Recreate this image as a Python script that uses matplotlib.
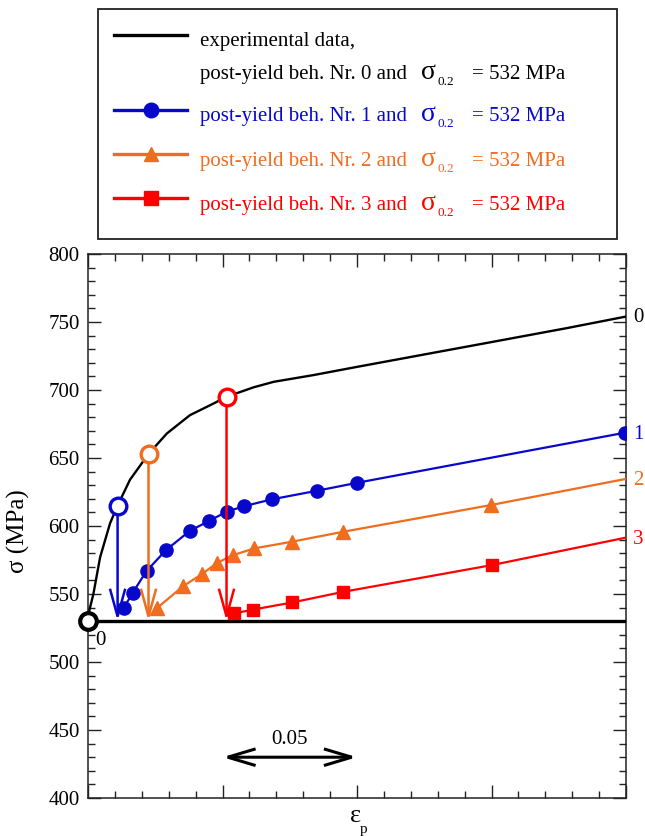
import matplotlib
matplotlib.use("Agg")
import matplotlib.pyplot as plt
from matplotlib.ticker import MultipleLocator, NullFormatter
from matplotlib.patches import Rectangle

plt.rcParams['font.family'] = ['Liberation Serif', 'DejaVu Serif']

BLUE = '#0808cc'
ORANGE = '#f06c1e'
RED = '#ff0000'

# experimental curve (post-yield behaviour Nr. 0)
exp_eps = [0.0, 0.0005, 0.002, 0.0045, 0.0082, 0.011, 0.0156, 0.0225, 0.0293, 0.0379,
           0.0466, 0.0515, 0.0616, 0.069, 0.0839, 0.1, 0.1507, 0.178, 0.2]
exp_sig = [530, 538, 550, 577, 602, 615, 634, 653, 668, 681.5,
           690, 695, 702, 706, 711, 717, 735.5, 745.5, 754]

sigma_line = 530          # drawn yield level
sigma02_text = 532        # value quoted in legend

# unloading points on the experimental curve
yield_eps = [0.011, 0.0225, 0.0515]
yield_sig = [615, 653, 695]

# post-yield behaviour Nr. 1
b1_eps = [0.0132, 0.0166, 0.0218, 0.029, 0.0379, 0.0451, 0.0515, 0.0581, 0.0683, 0.0851, 0.1001, 0.1996]
b1_sig = [539.4, 550.9, 567, 582.3, 596.5, 603.8, 610.5, 614.6, 619.6, 625.9, 631.8, 668.6]

# post-yield behaviour Nr. 2 (last point has no marker)
b2_eps = [0.0255, 0.0354, 0.0422, 0.048, 0.054, 0.0617, 0.0757, 0.0947, 0.1498, 0.1996]
b2_sig = [539.4, 555.8, 564.4, 572.9, 578.6, 583.5, 588.4, 595.7, 615.4, 634.5]

# post-yield behaviour Nr. 3 (last point has no marker)
b3_eps = [0.0543, 0.0615, 0.076, 0.0949, 0.15, 0.1996]
b3_sig = [535.7, 538.6, 543.8, 551.6, 571.2, 591.3]

colors = ['k', BLUE, ORANGE, RED]
end_labels = ['0', '1', '2', '3']

fig = plt.figure(figsize=(6.45, 8.36), dpi=100)
ax = fig.add_axes([88 / 645, 1 - 798 / 836, 538 / 645, 544 / 836])
ax.set_xlim(0, 0.2)
ax.set_ylim(400, 800)

ax.plot(exp_eps, exp_sig, color='k', lw=1.7, zorder=3)
ax.plot([0, 0.2], [sigma_line, sigma_line], color='k', lw=2.4, zorder=3)

ax.plot(b1_eps, b1_sig, color=BLUE, lw=1.6, marker='o', ms=9.5, zorder=4)
ax.plot(b2_eps, b2_sig, color=ORANGE, lw=1.6, marker='^', ms=10,
        markevery=list(range(len(b2_eps) - 1)), zorder=4)
ax.plot(b3_eps, b3_sig, color=RED, lw=1.6, marker='s', ms=8.5,
        markevery=list(range(len(b3_eps) - 1)), zorder=4)

# unloading arrows + open circles
for e, s, c in zip(yield_eps, yield_sig, colors[1:]):
    ax.annotate('', xy=(e, sigma_line), xytext=(e, s),
                arrowprops=dict(arrowstyle='->,head_length=2.0,head_width=0.55',
                                lw=1.8, color=c, shrinkA=0, shrinkB=0, patchA=None,
                                joinstyle='miter', capstyle='butt'),
                zorder=5)
    ax.plot(e, s, 'o', ms=12, mfc='white', mec=c, mew=2.4, zorder=6)

ax.plot(0, sigma_line, 'o', ms=12, mfc='white', mec='k', mew=3, clip_on=False, zorder=7)
ax.annotate('0', (0, sigma_line), xytext=(9, -14), textcoords='offset points',
            ha='center', va='center', fontsize=15)

# curve labels on the right
ends = [exp_sig[-1], b1_sig[-1], b2_sig[-1], b3_sig[-1]]
for lab, s, c in zip(end_labels, ends, colors):
    ax.annotate(lab, (0.2, s), xytext=(5, -1), textcoords='offset points',
                ha='left', va='center', fontsize=15, color=c, annotation_clip=False)

# scale arrow
ax.annotate('', xy=(0.1, 430), xytext=(0.05, 430),
            arrowprops=dict(arrowstyle='<->,head_length=2.0,head_width=0.6',
                            lw=2.2, color='k', shrinkA=0, shrinkB=0, patchA=None,
                            joinstyle='miter', capstyle='butt'))
ax.annotate('0.05', (0.075, 430), xytext=(0, 13), textcoords='offset points',
            ha='center', va='center', fontsize=15)

ax.xaxis.set_major_locator(MultipleLocator(0.05))
ax.xaxis.set_minor_locator(MultipleLocator(0.01))
ax.xaxis.set_major_formatter(NullFormatter())
ax.yaxis.set_major_locator(MultipleLocator(50))
ax.yaxis.set_minor_locator(MultipleLocator(10))
ax.tick_params(which='both', direction='in', top=True, right=True, width=1, color='#222')
ax.tick_params(which='major', length=9.5)
ax.tick_params(which='minor', length=5)
ax.tick_params(axis='y', labelsize=15, pad=6)
for sp in ax.spines.values():
    sp.set_linewidth(1.1)
    sp.set_color('#222')

# overlay in pixel coordinates for legend and axis labels
ov = fig.add_axes([0, 0, 1, 1], zorder=10)
ov.set_xlim(0, 645)
ov.set_ylim(836, 0)
ov.axis('off')

ov.text(18, 531, 'σ (MPa)', rotation=90, ha='center', va='center', fontsize=18)
ov.text(355.5, 816, 'ε', ha='center', va='center', fontsize=19)
ov.text(364, 830, 'p', ha='center', va='center', fontsize=11)

ov.add_patch(Rectangle((98, 9), 518.5, 230, fill=False, lw=1.3, ec='#222'))

handle_y = [35, 110, 154.3, 198.3]
markers = [None, 'o', '^', 's']
for y, c, m in zip(handle_y, colors, markers):
    ov.plot([114, 187], [y, y], color=c, lw=2.4)
    if m:
        ov.plot(150.5, y, marker=m, color=c, ms=10.5)

ov.text(200, 45.7, 'experimental data,', fontsize=15, va='baseline')
row_base = [79, 120.7, 165.7, 210]
for k, (b, c) in enumerate(zip(row_base, colors)):
    ov.text(200, b, 'post-yield beh. Nr. %d and' % k, fontsize=15, color=c, va='baseline')
    ov.text(421, b, 'σ', fontsize=20, color=c, va='baseline')
    ov.text(437, b + 6, '0.2', fontsize=9.5, color=c, va='baseline')
    ov.text(471.5, b, '= %d MPa' % sigma02_text, fontsize=15, color=c, va='baseline')

fig.savefig('out.png', dpi=100)
